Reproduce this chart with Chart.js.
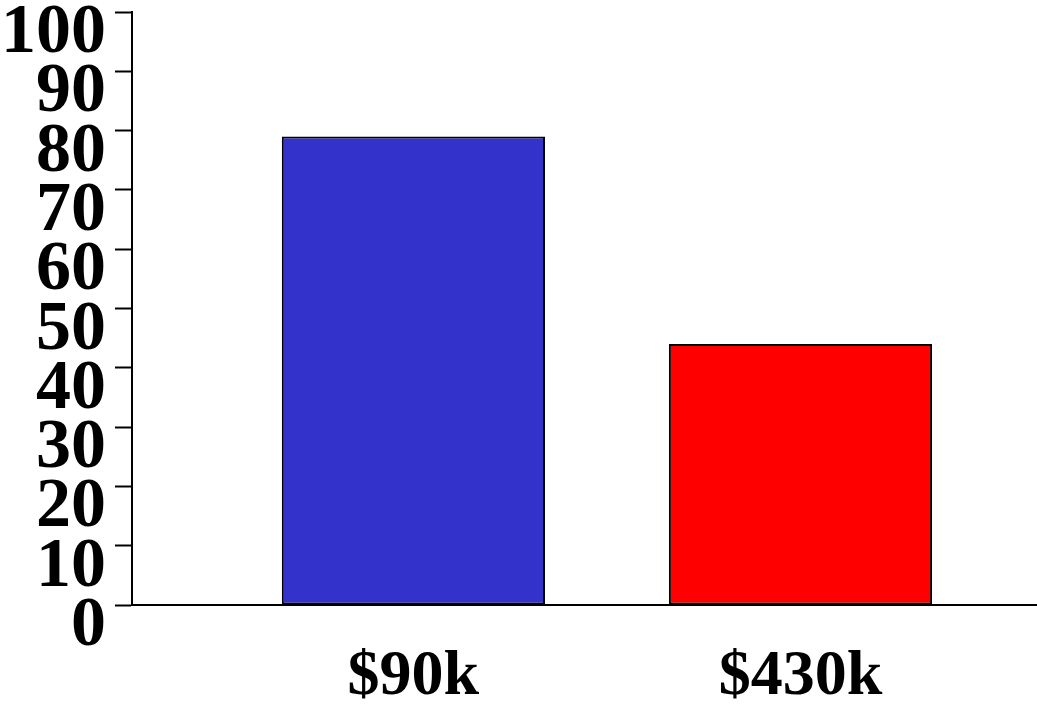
<!DOCTYPE html>
<html>
<head>
<meta charset="utf-8">
<script src="https://cdn.jsdelivr.net/npm/chart.js@4/dist/chart.umd.min.js"></script>
<style>
  html, body { margin: 0; padding: 0; background: #fff; }
  #wrap { width: 1037px; height: 711px; }
</style>
</head>
<body>
<div id="wrap"><canvas id="bars"></canvas></div>
<script>
const categories = ['$90k', '$430k'];
const values = [79, 44];
const barColors = ['#3333cc', '#ff0000'];
const yTicks = [0, 10, 20, 30, 40, 50, 60, 70, 80, 90, 100];

const xFont = { family: 'Liberation Serif', weight: 'bold', size: 64 };
const yFont = { family: 'Liberation Serif', weight: 'bold', size: 70 };

new Chart(document.getElementById('bars').getContext('2d'), {
  type: 'bar',
  data: {
    datasets: [
      {
        data: values.map((v, i) => ({ x: i, y: v })),
        backgroundColor: barColors,
        borderColor: '#000',
        borderWidth: 2,
        borderSkipped: false,
        categoryPercentage: 1,
        barPercentage: 0.68,
      },
    ],
  },
  options: {
    responsive: true,
    maintainAspectRatio: false,
    animation: false,
    layout: {
      padding: { top: 12, left: 0, right: 0, bottom: 0 },
    },
    plugins: {
      legend: { display: false },
      tooltip: { enabled: false },
    },
    scales: {
      x: {
        type: 'linear',
        offset: false,
        min: -0.727,
        max: 1.611,
        grid: { display: false },
        border: { color: '#000', width: 2 },
        afterBuildTicks: (s) => {
          s.ticks = categories.map((_, i) => ({ value: i }));
        },
        afterFit: (s) => {
          s.height = 106;
        },
        ticks: {
          font: xFont,
          color: '#000',
          padding: 26,
          callback: (v) => categories[v],
        },
      },
      y: {
        min: yTicks[0],
        max: yTicks[yTicks.length - 1],
        afterBuildTicks: (s) => {
          s.ticks = yTicks.map((v) => ({ value: v }));
        },
        afterFit: (s) => {
          s.width = 132;
          s.paddingTop = 0;
          s.paddingBottom = 0;
        },
        grid: {
          drawOnChartArea: false,
          drawTicks: true,
          tickLength: 17,
          tickWidth: 2,
          tickColor: '#000',
        },
        border: { color: '#000', width: 2 },
        ticks: {
          font: yFont,
          color: '#000',
          padding: 9,
          autoSkip: false,
          labelOffset: 22,
        },
      },
    },
  },
});
</script>
</body>
</html>
